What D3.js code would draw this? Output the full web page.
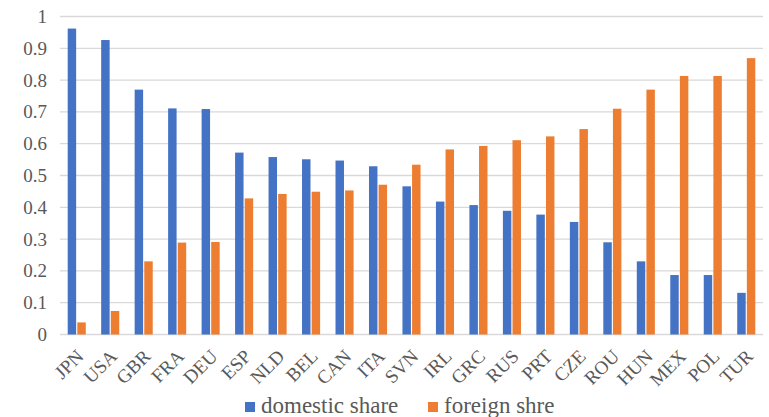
<!DOCTYPE html>
<html>
<head>
<meta charset="utf-8">
<script src="https://cdn.jsdelivr.net/npm/d3@7"></script>
<style>
  body { margin: 0; background: #fff; }
  svg text { font-family: "Liberation Serif", "Times New Roman", Times, "DejaVu Serif", serif !important; }
</style>
</head>
<body>
<div id="chart"></div>
<script>
var countries = ["JPN","USA","GBR","FRA","DEU","ESP","NLD","BEL","CAN","ITA","SVN","IRL","GRC","RUS","PRT","CZE","ROU","HUN","MEX","POL","TUR"];
var domesticShare = [0.962,0.926,0.770,0.711,0.709,0.572,0.558,0.551,0.547,0.529,0.466,0.418,0.407,0.389,0.377,0.354,0.290,0.230,0.187,0.187,0.131];
var foreignShare = [0.038,0.074,0.230,0.289,0.291,0.428,0.442,0.449,0.453,0.471,0.534,0.582,0.593,0.611,0.623,0.646,0.710,0.770,0.813,0.813,0.869];
var seriesNames = ["domestic share", "foreign shre"];
var yTicks = [0,0.1,0.2,0.3,0.4,0.5,0.6,0.7,0.8,0.9,1];

var W = 769, H = 417;
var margin = {top: 16.5, right: 6, bottom: 82.5, left: 60},
    width = W - margin.left - margin.right,
    height = H - margin.top - margin.bottom;

var colors = ["#4472C4", "#ED7D31"];

var svg = d3.select("#chart").append("svg")
    .attr("width", W)
    .attr("height", H)
    .attr("font-family", "Liberation Serif");

var g = svg.append("g")
    .attr("transform", "translate(" + margin.left + "," + margin.top + ")");

var x = d3.scaleBand().domain(countries).range([0, width]).paddingInner(0.46).paddingOuter(0.23);
var x1 = d3.scaleBand().domain([0, 1]).range([0, x.bandwidth()]).paddingInner(0.12);
var y = d3.scaleLinear().domain([0, 1]).range([height, 0]);

// gridlines
g.selectAll(".grid").data(yTicks).enter().append("line")
    .attr("x1", 0).attr("x2", width)
    .attr("y1", function(d){ return y(d); })
    .attr("y2", function(d){ return y(d); })
    .attr("stroke", "#d9d9d9")
    .attr("stroke-width", 1.3);

// y axis
var yAxis = g.append("g")
    .call(d3.axisLeft(y).tickValues(yTicks).tickSize(0).tickPadding(13)
        .tickFormat(function(d){ return d === 0 || d === 1 ? d : d3.format(".1f")(d); }));
yAxis.attr("font-family", null).attr("font-size", null);
yAxis.select(".domain").remove();
yAxis.selectAll("text").style("font-size", "19px").attr("fill", "#595959");

// bars
var data = [domesticShare, foreignShare];
data.forEach(function(vals, s){
    g.selectAll(".bar" + s).data(countries).enter().append("rect")
        .attr("x", function(d){ return x(d) + x1(s); })
        .attr("width", x1.bandwidth())
        .attr("y", function(d, i){ return y(vals[i]); })
        .attr("height", function(d, i){ return height - y(vals[i]); })
        .attr("fill", colors[s]);
});

// x axis labels
var xAxis = g.append("g")
    .attr("transform", "translate(0," + height + ")")
    .call(d3.axisBottom(x).tickSize(0).tickPadding(0));
xAxis.attr("font-family", null).attr("font-size", null);
xAxis.select(".domain").remove();
xAxis.selectAll("text")
    .style("font-size", "19px")
    .attr("fill", "#595959")
    .attr("text-anchor", "end")
    .attr("y", 0)
    .attr("dy", 0)
    .attr("transform", "translate(8,23) rotate(-45)");

// legend
var legendX = [245, 428];
var legend = svg.selectAll(".legend").data(seriesNames).enter().append("g")
    .attr("transform", function(d, i){ return "translate(" + legendX[i] + ",402)"; });
legend.append("rect")
    .attr("width", 10).attr("height", 10)
    .attr("fill", function(d, i){ return colors[i]; });
legend.append("text")
    .attr("x", 16).attr("y", 10.5)
    .style("font-size", "23px")
    .attr("fill", "#595959")
    .text(function(d){ return d; });
</script>
</body>
</html>
